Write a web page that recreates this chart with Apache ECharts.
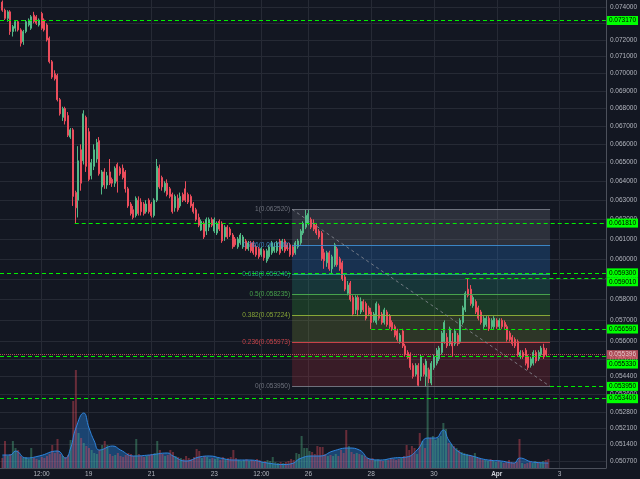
<!DOCTYPE html>
<html><head><meta charset="utf-8">
<style>html,body{margin:0;padding:0;background:#131722;}#c{width:640px;height:479px;}</style>
<script src="https://cdn.jsdelivr.net/npm/echarts@6/dist/echarts.min.js"></script>
</head><body><div id="c"></div><script>
// ---- data ----
const startTime = Date.UTC(2018, 2, 16, 6);   // first 2h candle
const stepMs = 2 * 3600 * 1000;
// [open, close, low, high]
const ohlc = [
[0.0743,0.0738,0.0737,0.0744],[0.0738,0.0733,0.0732,0.0739],[0.0733,0.0737,0.0731,0.0738],[0.0737,0.0725,0.0723,0.0738],[0.0725,0.0728,0.0722,0.0729],
[0.0727,0.0731,0.0725,0.0732],[0.0731,0.0726,0.0725,0.0732],[0.0726,0.0718,0.0716,0.0727],[0.0719,0.0725,0.0717,0.0726],[0.0725,0.0731,0.0724,0.0732],
[0.0729,0.0732,0.0728,0.0733],[0.0727,0.0734,0.0726,0.0735],[0.0735,0.0731,0.0730,0.0737],[0.0734,0.0730,0.0729,0.0735],[0.0729,0.0732,0.0728,0.0733],
[0.0736,0.0727,0.0726,0.0737],[0.0732,0.0726,0.0725,0.0733],[0.0729,0.0720,0.0719,0.0730],[0.0721,0.0707,0.0706,0.0722],[0.0707,0.0698,0.0697,0.0708],
[0.0700,0.0697,0.0696,0.0702],[0.0699,0.0685,0.0684,0.0700],[0.0685,0.0677,0.0676,0.0686],[0.0675,0.0680,0.0673,0.0681],[0.0680,0.0673,0.0671,0.0681],
[0.0676,0.0665,0.0664,0.0678],[0.0664,0.0668,0.0663,0.0669],[0.0668,0.0632,0.0627,0.0669],[0.0634,0.0626,0.06181,0.0635],[0.0630,0.0651,0.0621,0.0659],
[0.0657,0.0639,0.0635,0.0660],[0.0651,0.0677,0.0649,0.0679],[0.0675,0.0648,0.0645,0.0676],[0.0667,0.0641,0.0640,0.0669],[0.0643,0.0650,0.0641,0.0652],
[0.0648,0.0657,0.0646,0.0660],[0.0652,0.0661,0.0650,0.0663],[0.0662,0.0644,0.0643,0.0664],[0.0637,0.0645,0.0633,0.0646],[0.0645,0.0638,0.0636,0.0647],
[0.0638,0.0643,0.0636,0.0645],[0.0645,0.0639,0.0638,0.0652],[0.0641,0.0639,0.0637,0.0642],[0.0639,0.0647,0.0637,0.0648],[0.0649,0.0640,0.0634,0.0650],
[0.0647,0.0644,0.0643,0.0648],[0.0647,0.0642,0.0641,0.0649],[0.0645,0.0636,0.0634,0.0646],[0.0636,0.0627,0.0626,0.0637],[0.0628,0.0623,0.0622,0.0629],
[0.0625,0.0621,0.0620,0.0627],[0.0622,0.0631,0.0621,0.0632],[0.0630,0.0623,0.0622,0.0632],[0.0629,0.0624,0.0622,0.0631],[0.0628,0.0623,0.0622,0.0629],
[0.0624,0.0628,0.0623,0.0630],[0.0630,0.0624,0.0623,0.0631],[0.0628,0.0622,0.0621,0.0629],[0.0622,0.0630,0.0621,0.0631],[0.0630,0.0648,0.0629,0.0652],
[0.0647,0.0637,0.0636,0.0649],[0.0642,0.0637,0.0635,0.0643],[0.0635,0.0639,0.0634,0.0640],[0.0639,0.0633,0.0632,0.0641],[0.0636,0.0632,0.0631,0.0637],
[0.0633,0.0624,0.0623,0.0634],[0.0626,0.0632,0.0624,0.0633],[0.0631,0.0625,0.0624,0.0633],[0.0627,0.0632,0.0626,0.0634],[0.0633,0.0630,0.0629,0.0634],
[0.0636,0.0630,0.0629,0.0640],[0.0633,0.0629,0.0628,0.0634],[0.0632,0.0627,0.0626,0.0633],[0.0628,0.0624,0.0623,0.0629],[0.0625,0.0620,0.0619,0.0626],
[0.0621,0.0617,0.0616,0.0623],[0.06145,0.0619,0.0614,0.0620],[0.0618,0.0611,0.0610,0.0619],[0.0614,0.0620,0.0612,0.0621],[0.0616,0.0620,0.0614,0.0621],
[0.0620,0.0617,0.0616,0.0621],[0.0614,0.0620,0.0613,0.0621],[0.0613,0.0618,0.0612,0.0619],[0.0619,0.0615,0.0614,0.0620],[0.0618,0.0609,0.0608,0.0619],
[0.0611,0.0616,0.0609,0.0617],[0.0616,0.0611,0.0610,0.0617],[0.0615,0.0612,0.0611,0.0616],[0.0612,0.0606,0.0605,0.0613],[0.0610,0.0607,0.0606,0.0611],
[0.0606,0.0610,0.0605,0.0611],[0.0608,0.0612,0.0607,0.0613],[0.0606,0.0611,0.0605,0.0612],[0.0609,0.0605,0.0604,0.0610],[0.0605,0.0608,0.0604,0.0609],
[0.0608,0.0604,0.0603,0.0609],[0.0608,0.0603,0.0602,0.0609],[0.0606,0.0602,0.0601,0.0607],[0.0605,0.0601,0.0600,0.0606],[0.0602,0.0605,0.0601,0.0606],
[0.0604,0.06005,0.0599,0.0605],[0.0599,0.0604,0.0598,0.0605],[0.0601,0.0606,0.0600,0.0607],[0.0603,0.0608,0.0602,0.0609],[0.0604,0.0606,0.0603,0.0608],
[0.0604,0.0608,0.0603,0.0609],[0.0609,0.0603,0.0602,0.0610],[0.0605,0.0609,0.0604,0.0610],[0.0609,0.0604,0.0603,0.0610],[0.0607,0.0605,0.0604,0.0608],
[0.0607,0.0602,0.0601,0.0608],[0.0606,0.0602,0.0601,0.0607],[0.0603,0.0608,0.0602,0.0609],[0.0606,0.0609,0.0605,0.0610],[0.0608,0.0614,0.0607,0.0615],
[0.0613,0.0618,0.0612,0.0619],[0.0616,0.0622,0.0615,0.0625],[0.0618,0.0623,0.0617,0.06252],[0.0620,0.0616,0.0615,0.0621],[0.0618,0.0615,0.0614,0.0620],
[0.0617,0.0613,0.0612,0.0618],[0.0614,0.0611,0.0610,0.0615],[0.0613,0.0600,0.0599,0.0614],[0.0603,0.0599,0.0595,0.0605],[0.0598,0.0603,0.0596,0.0604],
[0.0603,0.0595,0.0594,0.0604],[0.0595,0.0601,0.0593,0.0602],[0.0597,0.0607,0.0596,0.0608],[0.0605,0.0597,0.0596,0.0606],[0.0600,0.0595,0.0594,0.0601],
[0.0598,0.0590,0.0589,0.0599],[0.0591,0.0585,0.0584,0.0592],[0.0583,0.0587,0.0582,0.0589],[0.0588,0.0580,0.0579,0.0589],[0.0581,0.0573,0.0572,0.0582],
[0.0575,0.0581,0.0573,0.0582],[0.0581,0.0575,0.0572,0.0582],[0.0574,0.0579,0.0573,0.0581],[0.0579,0.0575,0.0574,0.0580],[0.0578,0.0571,0.0570,0.0579],
[0.0576,0.0573,0.0572,0.0577],[0.0574,0.0569,0.05659,0.0576],[0.0570,0.0573,0.0569,0.0574],[0.0569,0.0578,0.0568,0.0579],[0.0577,0.0571,0.0570,0.0578],
[0.0573,0.0569,0.0568,0.0574],[0.0569,0.0575,0.0568,0.0576],[0.0574,0.0568,0.0567,0.0575],[0.0572,0.0567,0.0566,0.0573],[0.0569,0.0566,0.0565,0.0570],
[0.0567,0.0563,0.0562,0.0568],[0.0565,0.0561,0.0560,0.0566],[0.0560,0.0563,0.0559,0.0564],[0.0565,0.0558,0.0557,0.0566],[0.0558,0.0554,0.0553,0.0559],
[0.0555,0.05525,0.0552,0.0556],[0.0554,0.0548,0.0547,0.0555],[0.0549,0.0544,0.0543,0.0550],[0.0545,0.0549,0.0544,0.0550],[0.0549,0.0540,0.05395,0.0550],
[0.0544,0.0553,0.0542,0.0554],[0.0549,0.0545,0.0544,0.0550],[0.0544,0.0551,0.05395,0.0552],[0.0547,0.0543,0.0541,0.0548],[0.0541,0.0550,0.0540,0.0551],
[0.0548,0.0553,0.0547,0.0554],[0.0550,0.0556,0.0549,0.0557],[0.0552,0.0557,0.0551,0.0558],[0.0555,0.0564,0.0554,0.0565],[0.0560,0.0569,0.0559,0.0570],
[0.0562,0.0558,0.0557,0.0564],[0.0559,0.0566,0.0558,0.0567],[0.0560,0.0558,0.0553,0.0564],[0.0559,0.0565,0.0558,0.0566],[0.0563,0.0559,0.0558,0.0564],
[0.0560,0.0570,0.0559,0.0571],[0.0569,0.0576,0.0568,0.0577],[0.0575,0.0583,0.0574,0.0584],[0.0585,0.0582,0.0581,0.05901],[0.0585,0.0578,0.0577,0.0587],
[0.0577,0.0581,0.0576,0.0582],[0.0579,0.0574,0.0573,0.0580],[0.0576,0.0571,0.0570,0.0577],[0.0574,0.0569,0.0568,0.0575],[0.0567,0.0571,0.0566,0.0572],
[0.0568,0.0571,0.0567,0.0572],[0.0571,0.0566,0.0565,0.0572],[0.0567,0.0570,0.0566,0.0571],[0.0567,0.0571,0.0566,0.0572],[0.0570,0.0567,0.0566,0.0571],
[0.0567,0.0570,0.0566,0.0571],[0.0570,0.0567,0.0566,0.0571],[0.0569,0.0567,0.0566,0.0570],[0.0567,0.0561,0.0560,0.0568],[0.0564,0.0561,0.0560,0.0565],
[0.0562,0.0559,0.0558,0.0563],[0.0561,0.0558,0.0557,0.0562],[0.0560,0.0554,0.0553,0.0561],[0.0553,0.0555,0.0552,0.0556],[0.0555,0.0553,0.0552,0.0556],
[0.0556,0.0550,0.0549,0.0557],[0.0553,0.0548,0.0547,0.0554],[0.0549,0.0552,0.0548,0.0553],[0.0550,0.0555,0.0549,0.0556],[0.0555,0.0551,0.0550,0.0556],
[0.0552,0.0555,0.0551,0.0556],[0.0554,0.0557,0.0553,0.0558],[0.0557,0.0553,0.0552,0.0559],[0.0556,0.055396,0.0553,0.0557]
];
const volumes = [
10,27,12,14,27,20,18,12,10,11, 9,20,10,9,8,11,10,12,14,23,
15,29,14,12,11,13,28,67,98,35, 30,25,22,20,18,15,14,18,23,27,
23,14,12,13,15,12,11,13,15,14, 12,29,14,12,11,12,13,14,15,27,
18,14,12,13,18,16,12,11,10,9, 12,10,9,11,19,17,10,12,11,9,
10,9,10,8,11,9,10,11,18,10, 8,7,8,9,7,8,7,9,8,6,
7,8,7,11,6,5,6,5,6,7, 9,8,15,14,32,20,20,17,16,14,
22,21,21,14,12,13,12,14,12,18, 15,38,22,16,14,15,14,13,12,10,
9,10,8,9,8,7,9,8,10,9, 8,9,10,12,23,18,22,20,14,35,
27,20,100,30,32,28,30,32,45,39, 25,24,22,20,18,16,15,14,13,12,
15,10,9,8,8,7,9,7,6,7, 6,5,6,8,6,5,6,29,5,4,
5,6,5,7,6,5,7,8,9
];
// volume moving average, read at selected candles
const volMaIdx    = [0,3,5,9,14,21,24,26,28,31,33,35,37,42,45,50,56,63,65,70,75,79,83,88,94,101,107,111,113,118,121,126,132,136,140,144,149,154,158,162,165,168,170,174,179,185,190,195,197,202,208];
const volMaValues = [13,13,17,10,12,17,10,20,40,55,40,27,18,22,18,12,13,15,12,7,11,12,10,8,8,5,3.5,5,9,12,12,17,20,18,9,8,10,11,18,30,30,38,28,16,12,8,7,5,10,6,5];
const yTicks = [0.074,0.073,0.072,0.071,0.070,0.069,0.068,0.067,0.066,0.065,0.064,0.063,0.062,0.061,0.060,0.059,0.058,0.057,0.056,0.0552,0.0544,0.0536,0.0528,0.0521,0.0514,0.0507];
const xTickTimes  = ['2018-03-17T12:00Z','2018-03-19T00:00Z','2018-03-21T00:00Z','2018-03-23T00:00Z','2018-03-24T12:00Z','2018-03-26T00:00Z','2018-03-28T00:00Z','2018-03-30T00:00Z','2018-04-01T00:00Z','2018-04-03T00:00Z'];
const xTickLabels = ['12:00','19','21','23','12:00','26','28','30','Apr','3'];
// horizontal support / resistance rays (null start = whole width)
const levelPrices = [0.07317,0.06181,0.0593,0.05901,0.05659,0.05533,0.05395,0.0534];
const levelStarts = [null,'2018-03-18T13:20Z',null,'2018-03-31T00:00Z','2018-03-28T00:00Z',null,'2018-04-02T16:45Z',null];
const lastPrice = 0.055396;
// fibonacci retracement
const fibRatios = ['1','0.786','0.618','0.5','0.382','0.236','0'];
const fibPrices = [0.06252,0.060686,0.059246,0.058235,0.057224,0.055973,0.05395];
const fibStart = '2018-03-25T11:30Z', fibEnd = '2018-04-02T16:45Z';
const xRange = ['2018-03-16T04:11:26Z','2018-04-04T11:26:00Z'];
const yRange = [0.050405, 0.07443];

// ---- chart ----
const FONT = '"Liberation Sans", Arial, sans-serif';
const FS = 6.5;
const up = '#53b987', down = '#eb4d5c';
const T = i => startTime + i * stepMs;
const P = s => Date.parse(s);
const xMin = P(xRange[0]), xMax = P(xRange[1]);
const candleData = ohlc.map((d, i) => [T(i), d[0], d[1], d[2], d[3]]);
const volData = volumes.map((v, i) => ({
  value: [T(i), v],
  itemStyle: { color: ohlc[i][1] >= ohlc[i][0] ? 'rgba(83,185,135,0.40)' : 'rgba(235,77,92,0.40)' }
}));
const maData = volMaIdx.map((k, j) => [T(k), volMaValues[j]]);
const xTicks = xTickTimes.map(P);

const fibLineColors = ['#787b86','#3f8fd2','#2aa58c','#4caf50','#93b53a','#d8474d','#787b86'];
const fibZoneColors = ['rgba(120,123,134,0.25)','rgba(40,120,200,0.28)','rgba(40,170,140,0.22)','rgba(60,180,60,0.22)','rgba(150,180,60,0.2)','rgba(210,50,60,0.2)'];

const tagLabel = (txt, bg, fg, dy) => ({
  show: true, position: 'end', distance: 1, formatter: txt,
  backgroundColor: bg, color: fg, fontSize: FS, fontFamily: FONT,
  padding: [1, 2, 1, 2], offset: [0, dy || 0]
});
const dashStyle = () => ({ color: '#00f000', type: [4, 3], width: 1, opacity: 1 });

const markLines = [];
levelPrices.forEach((p, k) => {
  const dy = (p === 0.05533) ? 8 : (p === 0.05901 ? 3 : 0);
  const x0 = levelStarts[k] === null ? xMin : P(levelStarts[k]);
  markLines.push([{ coord: [x0, p], lineStyle: dashStyle(), label: tagLabel(p.toFixed(6), '#00ff00', '#000', dy) },
                  { coord: [xMax, p] }]);
});
fibPrices.forEach((p, k) => {
  markLines.push([{
    coord: [P(fibStart), p],
    lineStyle: { color: fibLineColors[k], type: 'solid', width: 1, opacity: 0.9 },
    label: { show: true, position: 'start', distance: 2, formatter: fibRatios[k] + '(' + p.toFixed(6) + ')',
             color: fibLineColors[k], fontSize: FS, fontFamily: FONT }
  }, { coord: [P(fibEnd), p] }]);
});
markLines.push([{ coord: [P(fibStart), fibPrices[0]], lineStyle: { color: '#8a8d96', type: [3, 3], width: 1, opacity: 0.8 }, label: { show: false } },
                { coord: [P(fibEnd), fibPrices[6]] }]);
markLines.push([{ coord: [xMin, lastPrice], lineStyle: { color: '#f0626d', type: 'dotted', width: 1, opacity: 0.7 },
                  label: tagLabel(lastPrice.toFixed(6), '#f0626d', '#fff', 0) },
                { coord: [xMax, lastPrice] }]);

const markAreas = [];
for (let k = 0; k < fibPrices.length - 1; k++) {
  markAreas.push([{ coord: [P(fibStart), fibPrices[k]], itemStyle: { color: fibZoneColors[k] } },
                  { coord: [P(fibEnd), fibPrices[k + 1]] }]);
}

const chart = echarts.init(document.getElementById('c'), null, { renderer: 'canvas' });
chart.setOption({
  backgroundColor: '#131722',
  animation: false,
  textStyle: { fontFamily: FONT },
  grid: [
    { left: 0, right: 32, top: 0, bottom: 11 },
    { left: 0, right: 32, top: 340, bottom: 11 }
  ],
  xAxis: [
    { type: 'value', gridIndex: 0, min: xMin, max: xMax, scale: true,
      axisLine: { show: true, lineStyle: { color: '#4c505b' } },
      axisTick: { show: false, customValues: xTicks },
      axisLabel: { customValues: xTicks, color: '#b2b5be', fontSize: FS, margin: 3, fontFamily: FONT,
        formatter: v => { const k = xTicks.indexOf(Number(v)); const s = k >= 0 ? xTickLabels[k] : ''; return s === 'Apr' ? '{b|Apr}' : s; },
        rich: { b: { fontWeight: 'bold', fontSize: FS, color: '#d1d4dc', fontFamily: FONT } } },
      splitLine: { show: true, lineStyle: { color: '#262a35', width: 1 } } },
    { type: 'value', gridIndex: 1, min: xMin, max: xMax, scale: true, show: false, splitLine: { show: false } }
  ],
  yAxis: [
    { type: 'log', logBase: 10, gridIndex: 0, position: 'right', min: yRange[0], max: yRange[1],
      axisLine: { show: true, lineStyle: { color: '#4c505b' } },
      axisTick: { show: false, customValues: yTicks },
      axisLabel: { customValues: yTicks, formatter: v => Number(v).toFixed(6), color: '#b2b5be', fontSize: FS, margin: 4, fontFamily: FONT },
      splitLine: { show: true, lineStyle: { color: '#262a35', width: 1 } } },
    { type: 'value', gridIndex: 1, min: 0, max: 128, show: false, splitLine: { show: false } }
  ],
  series: [
    { type: 'bar', xAxisIndex: 1, yAxisIndex: 1, data: volData, barWidth: 2, z: 1, silent: true },
    { type: 'line', xAxisIndex: 1, yAxisIndex: 1, data: maData, smooth: 0.5, symbol: 'none', silent: true, z: 1,
      lineStyle: { color: '#2f86e0', width: 1 }, areaStyle: { color: 'rgba(38,132,225,0.6)' } },
    { type: 'candlestick', xAxisIndex: 0, yAxisIndex: 0, data: candleData, barWidth: 1.5, z: 3, silent: true,
      itemStyle: { color: up, color0: down, borderColor: up, borderColor0: down, borderWidth: 1 },
      markArea: { silent: true, data: markAreas },
      markLine: { silent: true, symbol: ['none', 'none'], animation: false, data: markLines } }
  ]
});
</script></body></html>
